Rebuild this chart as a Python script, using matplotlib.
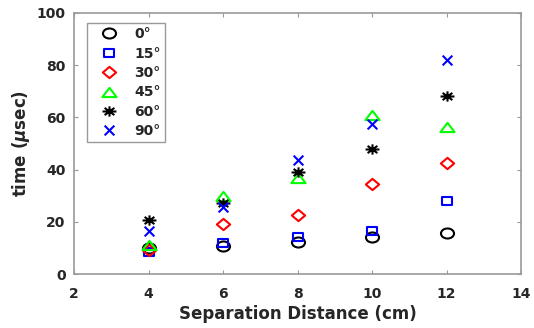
import matplotlib
matplotlib.use("Agg")
import matplotlib.pyplot as plt
import numpy as np
from matplotlib.path import Path

plt.rcParams['font.family'] = ['DejaVu Sans']
plt.rcParams['font.weight'] = 'bold'
plt.rcParams['mathtext.fontset'] = 'dejavusans'

distance = [4, 6, 8, 10, 12]
labels = ['0°', '15°', '30°', '45°', '60°', '90°']
t0 = [9.8, 10.7, 12.3, 14.0, 15.8]
t15 = [8.5, 11.7, 14.2, 16.5, 28.0]
t30 = [9.2, 19.0, 22.5, 34.6, 42.6]
t45 = [11.3, 29.8, 36.8, 61.0, 56.2]
t60 = [20.6, 27.2, 39.0, 48.0, 68.3]
t90 = [16.5, 25.5, 43.8, 57.5, 81.9]


# marker shapes, slightly wider than tall (as in the reference rendering)
def stretched(path, sx):
    v = np.asarray(path.vertices, dtype=float) * [sx, 1.0]
    return Path(v, path.codes)


circle_m = stretched(Path.unit_circle(), 1.3)
square_m = Path([(-1.35, -1), (1.35, -1), (1.35, 1), (-1.35, 1), (-1.35, -1)],
                [Path.MOVETO, Path.LINETO, Path.LINETO, Path.LINETO, Path.CLOSEPOLY])
diamond_m = Path([(0, -1), (1.18, 0), (0, 1), (-1.18, 0), (0, -1)],
                 [Path.MOVETO, Path.LINETO, Path.LINETO, Path.LINETO, Path.CLOSEPOLY])
triangle_m = Path([(0, 0.65), (1, -0.65), (-1, -0.65), (0, 0.65)],
                  [Path.MOVETO, Path.LINETO, Path.LINETO, Path.CLOSEPOLY])
x_m = Path([(-1, -1), (1, 1), (-1, 1), (1, -1)],
           [Path.MOVETO, Path.LINETO, Path.MOVETO, Path.LINETO])
star_m = Path([(-1.35, 0), (1.35, 0), (0, -1), (0, 1),
               (-0.95, -0.7), (0.95, 0.7), (-0.95, 0.7), (0.95, -0.7)],
              [Path.MOVETO, Path.LINETO] * 4)

series = [t0, t15, t30, t45, t60, t90]
markers = [circle_m, square_m, diamond_m, triangle_m, star_m, x_m]
colors = ['black', 'blue', 'red', '#00ff00', 'black', 'blue']
sizes = [9.4, 7.4, 9.6, 10.2, 10.0, 7.0]

txt = '#262626'
fig = plt.figure(figsize=(5.34, 3.28), dpi=100)
W, H = 534, 328
ax = fig.add_axes([74 / W, 1 - 274 / H, (521 - 74) / W, (274 - 13) / H])

for y, m, c, s, lab in zip(series, markers, colors, sizes, labels):
    ax.plot(distance, y, linestyle='none', marker=m, markersize=s,
            markerfacecolor='none', markeredgecolor=c, markeredgewidth=1.5,
            label=lab)

ax.set_xlim(2, 14)
ax.set_ylim(0, 100)
ax.set_xticks([2, 4, 6, 8, 10, 12, 14])
ax.set_yticks([0, 20, 40, 60, 80, 100])
ax.tick_params(direction='in', top=True, right=True, labelsize=10, length=3,
               color='#999999', labelcolor=txt)
ax.tick_params(axis='x', pad=9)
ax.tick_params(axis='y', pad=6)
for lbl in ax.get_xticklabels() + ax.get_yticklabels():
    lbl.set_fontweight('bold')
for sp in ax.spines.values():
    sp.set_color('#999999')
    sp.set_linewidth(1.2)
ax.set_xlabel('Separation Distance (cm)', fontsize=12, fontweight='bold',
              color=txt, labelpad=3)
ax.set_ylabel('time ($\\mu$sec)', fontsize=12, fontweight='bold',
              color=txt, labelpad=3.5)

leg = ax.legend(loc='upper left', bbox_to_anchor=(13 / 447, 1 - 10 / 261),
                borderaxespad=0, prop={'size': 10, 'weight': 'bold'},
                frameon=True, fancybox=False, edgecolor='#999999',
                handlelength=2.6, handletextpad=0.5, borderpad=0.3,
                labelspacing=0.39, framealpha=1)
leg.get_frame().set_linewidth(1.0)
for t in leg.get_texts():
    t.set_color(txt)

fig.savefig('out.png', dpi=100)
